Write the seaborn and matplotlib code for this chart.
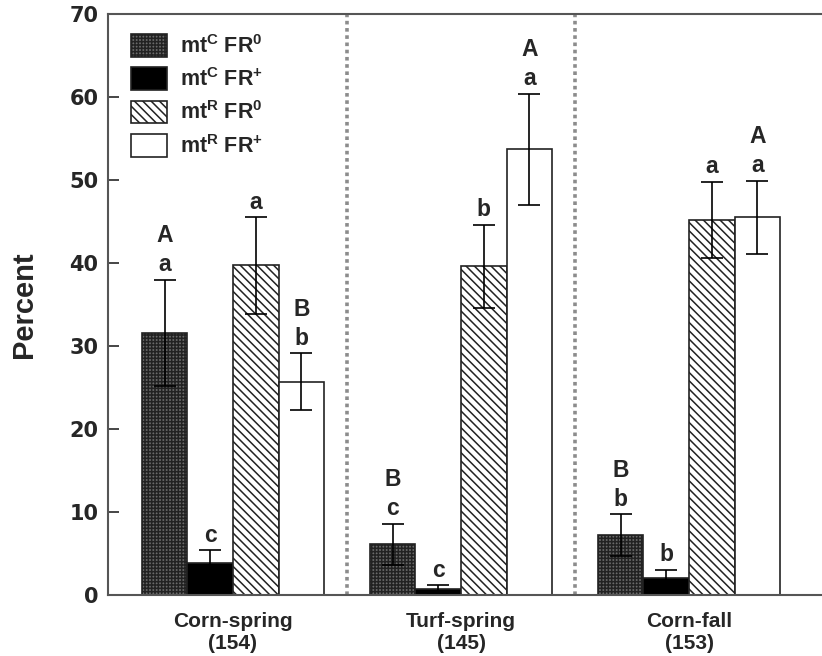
import numpy as np
import pandas as pd
import matplotlib
matplotlib.use("Agg")
import matplotlib.pyplot as plt
import seaborn as sns

sites = ["Corn-spring\n(154)", "Turf-spring\n(145)", "Corn-fall\n(153)"]
genotypes = [r"mt$^{C}$ FR$^{0}$", r"mt$^{C}$ FR$^{+}$", r"mt$^{R}$ FR$^{0}$", r"mt$^{R}$ FR$^{+}$"]

# percent per site, one list per genotype
mtC_FR0 = [31.6, 6.1, 7.2]
mtC_FRp = [3.8, 0.7, 2.1]
mtR_FR0 = [39.7, 39.6, 45.2]
mtR_FRp = [25.7, 53.7, 45.5]

err_mtC_FR0 = [6.4, 2.5, 2.5]
err_mtC_FRp = [1.6, 0.45, 0.95]
err_mtR_FR0 = [5.8, 5.0, 4.6]
err_mtR_FRp = [3.4, 6.7, 4.4]

# significance letters (lowercase within site, uppercase across sites)
lower_mtC_FR0 = ["a", "c", "b"]
lower_mtC_FRp = ["c", "c", "b"]
lower_mtR_FR0 = ["a", "b", "a"]
lower_mtR_FRp = ["b", "a", "a"]
upper_mtC_FR0 = ["A", "B", "B"]
upper_mtR_FRp = ["B", "A", "A"]

values = [mtC_FR0, mtC_FRp, mtR_FR0, mtR_FRp]
errors = [err_mtC_FR0, err_mtC_FRp, err_mtR_FR0, err_mtR_FRp]
lowers = [lower_mtC_FR0, lower_mtC_FRp, lower_mtR_FR0, lower_mtR_FRp]
uppers = [upper_mtC_FR0, ["", "", ""], ["", "", ""], upper_mtR_FRp]

rows = []
for g, vals in zip(genotypes, values):
    for s, v in zip(sites, vals):
        rows.append({"site": s, "genotype": g, "percent": v})
df = pd.DataFrame(rows)

sns.set_style("white")
plt.rcParams["font.family"] = ["Liberation Sans", "DejaVu Sans"]
plt.rcParams["font.weight"] = "bold"
plt.rcParams["mathtext.fontset"] = "custom"
plt.rcParams["mathtext.rm"] = "Liberation Sans:bold"
plt.rcParams["mathtext.bf"] = "Liberation Sans:bold"
plt.rcParams["mathtext.default"] = "bf"
plt.rcParams["hatch.linewidth"] = 1.1

fig = plt.figure(figsize=(8.22, 6.56), dpi=100)
ax = fig.add_axes([108 / 822, 61 / 656, 1 - 108 / 822, 581 / 656])

faces = ["#6a6a6a", "black", "white", "white"]
hatches = ["+++++", "", "\\\\\\\\", ""]
sns.barplot(data=df, x="site", y="percent", hue="genotype", order=sites,
            hue_order=genotypes, palette=faces, saturation=1, width=0.8,
            edgecolor="#222222", linewidth=1.2, errorbar=None, legend=False, ax=ax)

bar_containers = list(ax.containers)
handles = []
for i, cont in enumerate(bar_containers):
    xs = []
    for p in cont.patches:
        p.set_hatch(hatches[i])
        xs.append(p.get_x() + p.get_width() / 2)
    handles.append(cont.patches[0])
    ax.errorbar(xs, values[i], yerr=errors[i], fmt="none", ecolor="black",
                elinewidth=1.2, capsize=7.8, capthick=1.2, zorder=5)
    for x, v, e, lo, up in zip(xs, values[i], errors[i], lowers[i], uppers[i]):
        ax.annotate(lo, (x, v + e), xytext=(0, 6), textcoords="offset points",
                    ha="center", va="baseline", fontsize=16.5, fontweight="bold")
        if up:
            ax.annotate(up, (x, v + e), xytext=(0, 27), textcoords="offset points",
                        ha="center", va="baseline", fontsize=16.5, fontweight="bold")

for xv in [0.5, 1.5]:
    ax.axvline(xv, color="#8c8c8c", ls=(0, (1, 1)), lw=2.6, zorder=0)

ax.set_xlim(-0.548, 2.583)
ax.set_ylim(0, 70)
ax.set_yticks(range(0, 71, 10))
ax.set_xlabel("")
ax.set_ylabel("Percent", fontsize=21, fontweight="bold")
ax.yaxis.set_label_coords(-0.098, 0.5)

ax.tick_params(axis="y", direction="in", length=8, width=1.2, pad=7, left=True)
ax.tick_params(axis="x", length=0, pad=12, labelsize=15)
for lab in ax.get_yticklabels():
    lab.set_fontfamily("DejaVu Sans")
    lab.set_fontweight("bold")
    lab.set_fontsize(15)
for lab in ax.get_xticklabels():
    lab.set_fontweight("bold")

for side in ["left", "bottom", "top"]:
    ax.spines[side].set_color("#555555")
    ax.spines[side].set_linewidth(1.5)
ax.spines["right"].set_visible(False)

leg = ax.legend(handles=handles, labels=genotypes, loc="upper left",
                bbox_to_anchor=(131 / 822, 1 - 34 / 656), bbox_transform=fig.transFigure,
                frameon=False, borderpad=0, borderaxespad=0, fontsize=15.5,
                handlelength=1.67, handleheight=1.25, handletextpad=0.6, labelspacing=0.45)

fig.savefig("out.png", dpi=100)
